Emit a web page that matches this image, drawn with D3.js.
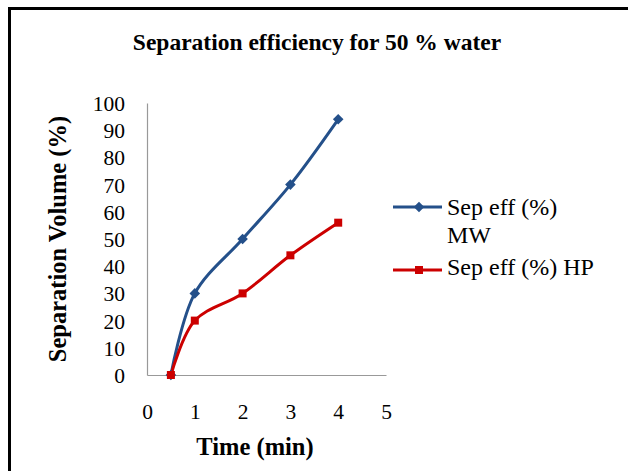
<!DOCTYPE html>
<html><head><meta charset="utf-8">
<script src="https://cdn.jsdelivr.net/npm/d3@7"></script>
<style>body{margin:0;background:#fff}svg{display:block}
svg text{font-family:"Liberation Serif","Times New Roman","DejaVu Serif",serif !important;}</style>
</head><body>
<svg id="c" width="628" height="471"></svg>
<script>
const times = [0.5, 1, 2, 3, 4];
const mwValues = [0, 30, 50, 70, 94];
const hpValues = [0, 20, 30, 44, 56];
const seriesNames = ["Sep eff (%) MW", "Sep eff (%) HP"];
const xTicks = [0, 1, 2, 3, 4, 5];
const yTicks = [0, 10, 20, 30, 40, 50, 60, 70, 80, 90, 100];

const svg = d3.select("#c");

svg.append("rect").attr("x", 9.5).attr("y", 8.5).attr("width", 640).attr("height", 480)
  .attr("fill", "#fff").attr("stroke", "#000").attr("stroke-width", 3);

const x = d3.scaleLinear().domain([0, 5]).range([147, 386]);
const y = d3.scaleLinear().domain([0, 100]).range([375, 103]);

svg.append("text").attr("x", 317).attr("y", 50).attr("text-anchor", "middle")
  .attr("font-weight", "bold").attr("font-size", 23.5)
  .text("Separation efficiency for 50 % water");

// axes
const ya = svg.append("g").attr("transform", "translate(147,0)")
  .call(d3.axisLeft(y).tickValues(yTicks).tickFormat(d3.format("d")).tickSize(0).tickPadding(22));
const xa = svg.append("g").attr("transform", "translate(0,375)")
  .call(d3.axisBottom(x).tickValues(xTicks).tickFormat(d3.format("d")).tickSize(0).tickPadding(29));
[ya, xa].forEach(a => {
  a.select(".domain").attr("stroke", "#999").attr("stroke-width", 1.2);
  a.selectAll("text").attr("font-size", 21.5).attr("fill", "#000");
});
ya.selectAll("text").attr("dy", "0.35em");

svg.append("text").attr("transform", "translate(66,239) rotate(-90)").attr("text-anchor", "middle")
  .attr("font-weight", "bold").attr("font-size", 24.5)
  .text("Separation Volume (%)");
svg.append("text").attr("x", 255).attr("y", 455).attr("text-anchor", "middle")
  .attr("font-weight", "bold").attr("font-size", 24.5)
  .text("Time (min)");

const colors = ["#24508a", "#cc0000"];
const data = [mwValues, hpValues];
const line = d3.line().x((d, i) => x(times[i])).y(d => y(d)).curve(d3.curveCatmullRom.alpha(0.5));

const diamond = d3.symbol().type(d3.symbolSquare).size(56);
const square = d3.symbol().type(d3.symbolSquare).size(64);
const rot = si => si === 0 ? " rotate(45)" : "";

data.forEach((vals, si) => {
  svg.append("path").datum(vals).attr("d", line).attr("fill", "none")
    .attr("stroke", colors[si]).attr("stroke-width", 3);
});
data.forEach((vals, si) => {
  svg.append("g").selectAll("path").data(vals).join("path")
    .attr("transform", (d, i) => `translate(${x(times[i])},${y(d)})` + rot(si))
    .attr("d", si === 0 ? diamond : square).attr("fill", colors[si]);
});

// legend
const legY = [207, 270];
legY.forEach((ly, si) => {
  svg.append("line").attr("x1", 393).attr("x2", 442).attr("y1", ly).attr("y2", ly)
    .attr("stroke", colors[si]).attr("stroke-width", 3);
  svg.append("path").attr("transform", `translate(419,${ly})` + rot(si))
    .attr("d", si === 0 ? diamond : square).attr("fill", colors[si]);
});
const lt = svg.append("g").attr("font-size", 24).attr("fill", "#000");
lt.append("text").attr("x", 447).attr("y", 215).text("Sep eff (%)");
lt.append("text").attr("x", 447).attr("y", 243).text("MW");
lt.append("text").attr("x", 447).attr("y", 275).text(seriesNames[1]);
</script>
</body></html>
